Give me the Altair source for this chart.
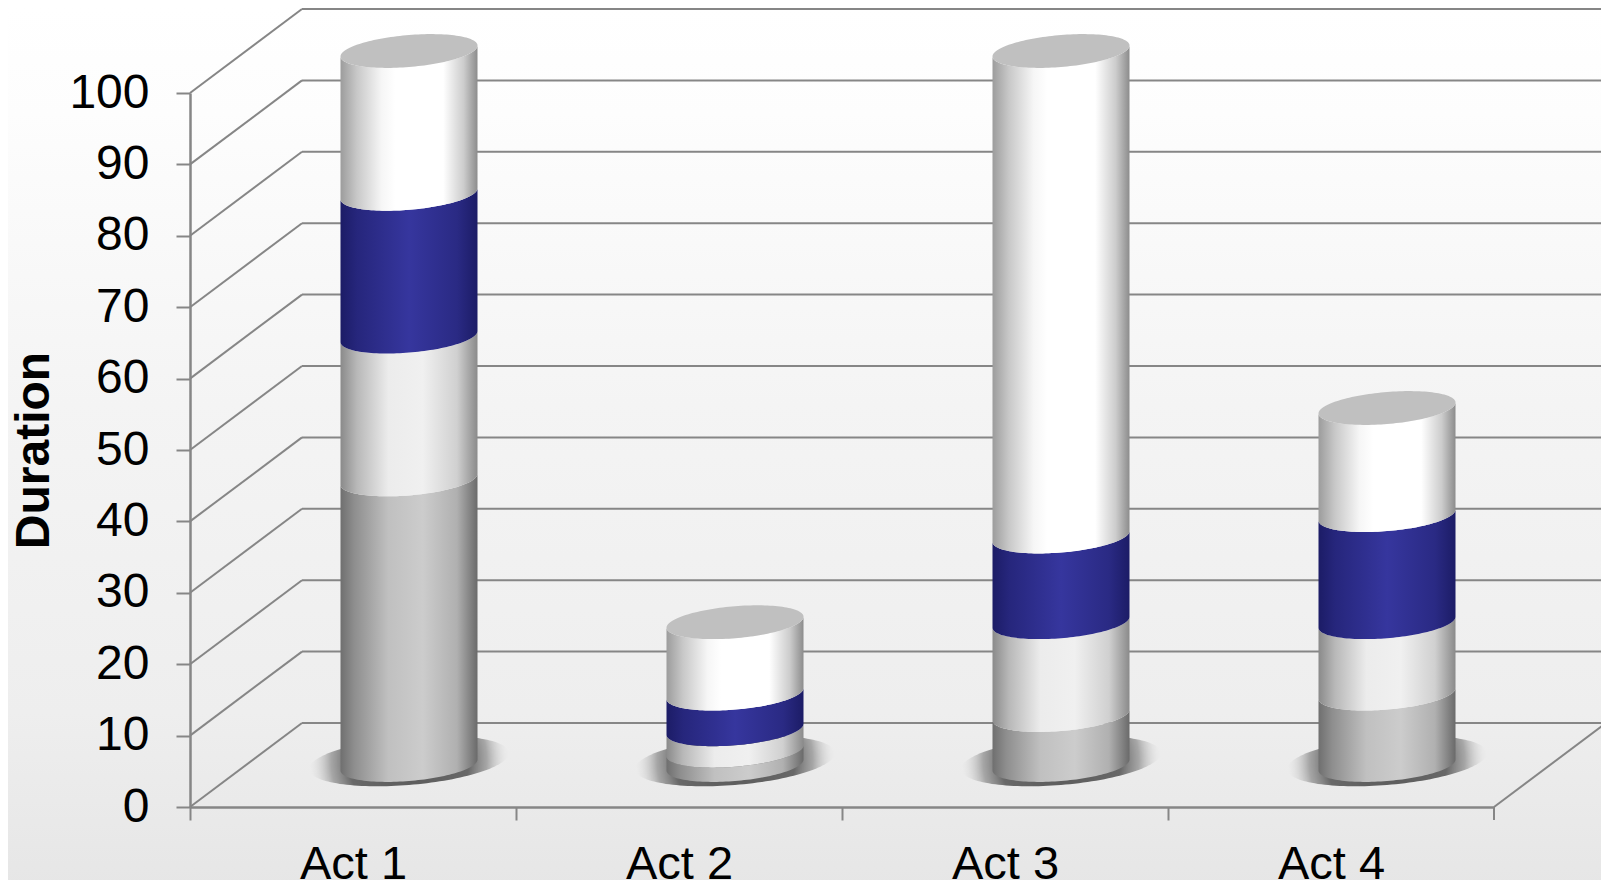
import math
import altair as alt
import pandas as pd

# ---- values ----
acts = ["Act 1", "Act 2", "Act 3", "Act 4"]
grey_base = [40, 2, 7, 10]
light_band = [20, 3, 13, 10]
blue_band = [20, 5, 12, 15]
white_band = [20, 10, 68, 15]
y_ticks = list(range(0, 101, 10))
x_ticks = [0, 1, 2, 3]

# ---- pseudo-3D geometry, in axis units ----
PX_X, PX_Y = 326.0, 7.14
DEPTH_X, DEPTH_Y = 112 / PX_X, 84 / PX_Y
HALF_W = 68.5 / PX_X
SLANT, BULGE = 5.5 / PX_Y, 16 / PX_Y
SH_HALF_W, SH_SLANT, SH_BULGE = 100 / PX_X, 8 / PX_Y, 24 / PX_Y
X_MIN, X_MAX = (8 - 190) / PX_X, (1609 - 190) / PX_X
Y_MIN, Y_MAX = (807 - 888) / PX_Y, (807 - 8) / PX_Y
GRID = "#868686"


def us(n=70):
    return [-math.cos(math.pi * k / n) for k in range(n + 1)]


def band_rows(level0, level1, act):
    rows = []
    cx = act + 0.5 + DEPTH_X / 2
    for u in us():
        arc = BULGE * math.sqrt(max(0, 1 - u * u))
        rows.append({
            "x": cx + u * HALF_W,
            "y": level0 + DEPTH_Y / 2 + SLANT * u - arc,
            "y2": level1 + DEPTH_Y / 2 + SLANT * u - arc,
            "act": acts[act],
        })
    return rows


def top_rows(level, act):
    rows = []
    cx = act + 0.5 + DEPTH_X / 2
    for u in us():
        arc = BULGE * math.sqrt(max(0, 1 - u * u))
        rows.append({
            "x": cx + u * HALF_W,
            "y": level + DEPTH_Y / 2 + SLANT * u - arc,
            "y2": level + DEPTH_Y / 2 + SLANT * u + arc,
            "act": acts[act],
        })
    return rows


def shadow_rows(act):
    rows = []
    cx = act + 0.5 + DEPTH_X / 2
    for u in us():
        arc = SH_BULGE * math.sqrt(max(0, 1 - u * u))
        rows.append({
            "x": cx + u * SH_HALF_W,
            "y": DEPTH_Y / 2 + 4 / PX_Y + SH_SLANT * u - arc,
            "y2": DEPTH_Y / 2 + 4 / PX_Y + SH_SLANT * u + arc,
            "act": acts[act],
        })
    return rows


def hgrad(stops):
    return alt.LinearGradient(
        gradient="linear", x1=0, x2=1, y1=0, y2=0,
        stops=[alt.GradientStop(color=c, offset=o) for o, c in stops],
    )


grey_fill = hgrad([(0, "#6f6f6f"), (0.1, "#8e8e8e"), (0.35, "#c0c0c0"), (0.6, "#cccccc"), (0.85, "#b0b0b0"), (1, "#6a6a6a")])
light_fill = hgrad([(0, "#8a8a8a"), (0.12, "#b8b8b8"), (0.35, "#ececec"), (0.6, "#f0f0f0"), (0.85, "#d0d0d0"), (1, "#8a8a8a")])
blue_fill = hgrad([(0, "#1c1c66"), (0.12, "#26267c"), (0.5, "#36369e"), (0.85, "#2a2a84"), (1, "#1c1c66")])
white_fill = hgrad([(0, "#9c9c9c"), (0.12, "#c8c8c8"), (0.3, "#f6f6f6"), (0.4, "#ffffff"), (0.75, "#ffffff"), (0.9, "#cccccc"), (1, "#8c8c8c")])
bg_fill = alt.LinearGradient(
    gradient="linear", x1=0, x2=0, y1=0, y2=1,
    stops=[
        alt.GradientStop(color="#ffffff", offset=0),
        alt.GradientStop(color="#fdfdfd", offset=0.12),
        alt.GradientStop(color="#f4f4f4", offset=0.45),
        alt.GradientStop(color="#eeeeee", offset=0.8),
        alt.GradientStop(color="#e6e6e6", offset=1),
    ],
)
shadow_fill = alt.RadialGradient(
    gradient="radial", x1=0.5, y1=0.5, r1=0, x2=0.5, y2=0.5, r2=0.5,
    stops=[
        alt.GradientStop(color="rgba(80,80,80,0.95)", offset=0),
        alt.GradientStop(color="rgba(90,90,90,0.9)", offset=0.6),
        alt.GradientStop(color="rgba(120,120,120,0.6)", offset=0.78),
        alt.GradientStop(color="rgba(220,220,220,0)", offset=1),
    ],
)

x_scale = alt.Scale(domain=[0, 4], nice=False, zero=False)
y_scale = alt.Scale(domain=[0, 100], nice=False, zero=False)
X = alt.X("x:Q", scale=x_scale)
Y = alt.Y("y:Q", scale=y_scale)

bg = alt.Chart(pd.DataFrame({"x": [X_MIN], "x2": [X_MAX], "y": [Y_MIN], "y2": [Y_MAX]})).mark_rect(fill=bg_fill).encode(
    x=alt.X("x:Q", scale=x_scale, axis=alt.Axis(
        values=x_ticks, title="", grid=False, zindex=1,
        labelExpr="['Act 1','Act 2','Act 3','Act 4'][datum.value]",
        labelOffset=163, labelFontSize=47, labelFont="Liberation Sans", labelColor="#000000",
        labelPadding=21, labelFlush=False, labelOverlap=False, labelBound=False,
        domainColor=GRID, domainWidth=2.5, tickColor=GRID, tickWidth=2, tickSize=13,
    )),
    x2="x2:Q",
    y=alt.Y("y:Q", scale=y_scale, axis=alt.Axis(
        values=y_ticks, title="Duration", grid=False, zindex=1,
        labelFontSize=48, labelFont="Liberation Sans", labelColor="#000000",
        labelPadding=27, labelOverlap=False, labelFlush=False, labelBound=False,
        titleFontSize=48, titleFont="Liberation Sans", titleFontWeight="bold", titleColor="#000000",
        titleX=-156, titleY=357, titleAngle=-90, titleAlign="center", titleBaseline="middle",
        domainColor=GRID, domainWidth=2.5, tickColor=GRID, tickWidth=2, tickSize=14,
    )),
    y2="y2:Q",
)

diag = pd.DataFrame([{"x": 0, "x2": DEPTH_X, "y": v, "y2": v + DEPTH_Y} for v in y_ticks]
                    + [{"x": 4, "x2": 4 + DEPTH_X, "y": 0, "y2": DEPTH_Y}]
                    + [{"x": 4, "x2": 4, "y": 0, "y2": -13 / PX_Y}])
back = pd.DataFrame([{"x": DEPTH_X, "x2": 4 + DEPTH_X, "y": v + DEPTH_Y, "y2": v + DEPTH_Y} for v in y_ticks])

diag_layer = alt.Chart(diag).mark_rule(color=GRID, strokeWidth=2).encode(x=X, x2="x2:Q", y=Y, y2="y2:Q")
back_layer = alt.Chart(back).mark_rule(color=GRID, strokeWidth=2).encode(x=X, x2="x2:Q", y=Y)

shadow_df = pd.DataFrame([r for a in range(4) for r in shadow_rows(a)])
shadow_layer = alt.Chart(shadow_df).mark_area(fill=shadow_fill, opacity=1).encode(
    x=X, y=Y, y2="y2:Q", detail="act:N")

levels = [[0] * 4]
for s in (grey_base, light_band, blue_band, white_band):
    levels.append([p + q for p, q in zip(levels[-1], s)])

layers = [bg, diag_layer, back_layer, shadow_layer]
for i, fill in enumerate((grey_fill, light_fill, blue_fill, white_fill)):
    df = pd.DataFrame([r for a in range(4) for r in band_rows(levels[i][a], levels[i + 1][a], a)])
    layers.append(alt.Chart(df).mark_area(fill=fill, opacity=1).encode(x=X, y=Y, y2="y2:Q", detail="act:N"))

top_df = pd.DataFrame([r for a in range(4) for r in top_rows(levels[4][a], a)])
layers.append(alt.Chart(top_df).mark_area(color="#c0c0c0", opacity=1).encode(x=X, y=Y, y2="y2:Q", detail="act:N"))

chart = alt.layer(*layers).properties(
    width=1304, height=714,
    padding=alt.Padding(left=182, right=107, top=85, bottom=73),
    autosize=alt.AutoSizeParams(type="none"),
).configure_view(stroke=None)

chart.save("out.html", embed_options={"renderer": "svg", "actions": False})
